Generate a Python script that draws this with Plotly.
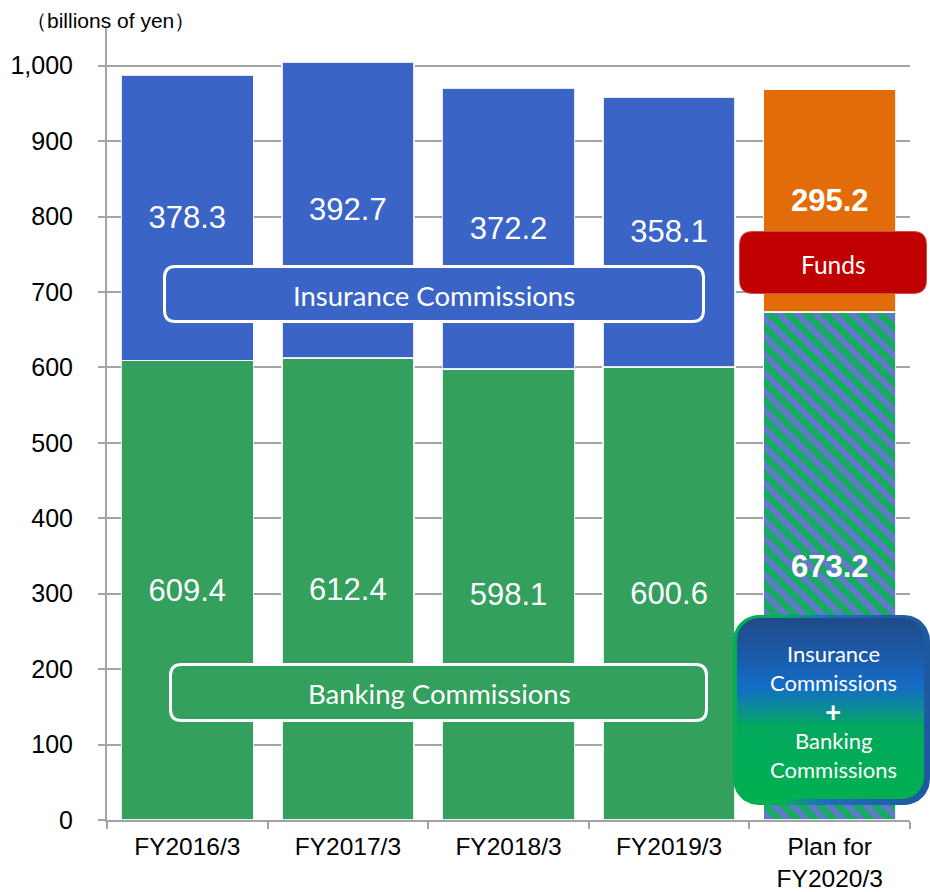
import numpy as np
import plotly.graph_objects as go

# ---- data (billions of yen) ----
categories = ["FY2016/3", "FY2017/3", "FY2018/3", "FY2019/3", "Plan for<br>FY2020/3"]
banking = [609.4, 612.4, 598.1, 600.6]
insurance = [378.3, 392.7, 372.2, 358.1]
plan_combined = [673.2]
plan_funds = [295.2]
y_ticks = [0, 100, 200, 300, 400, 500, 600, 700, 800, 900, 1000]

# ---- styling ----
BLUE = "#3A64C6"
GREEN = "#34A05E"
ORANGE = "#E36C0A"
RED = "#C00000"
GRID = "#A3A3A3"
NUM_FONT = "Liberation Sans, Arial, sans-serif"
BOX_FONT = "Lato, Open Sans, sans-serif"

W, H = 930, 892
ML, MR, MT, MB = 107, 0, 28, 72
PLOT_RIGHT = 910  # right end of the gridlines
x_dom_end = (PLOT_RIGHT - ML) / (W - ML - MR)


def rrect_path(x0, y0, x1, y1, r):
    """Rounded rectangle as an SVG path (pixel units, y downwards)."""
    return (f"M{x0 + r},{y0} L{x1 - r},{y0} Q{x1},{y0} {x1},{y0 + r} "
            f"L{x1},{y1 - r} Q{x1},{y1} {x1 - r},{y1} L{x0 + r},{y1} "
            f"Q{x0},{y1} {x0},{y1 - r} L{x0},{y0 + r} Q{x0},{y0} {x0 + r},{y0} Z")


def rrect_points(x0, y0, x1, y1, r, n=14):
    """Outline points of a rounded rectangle for a filled scatter trace."""
    xs, ys = [], []
    corners = [(x1 - r, y0 + r, -90, 0), (x1 - r, y1 - r, 0, 90),
               (x0 + r, y1 - r, 90, 180), (x0 + r, y0 + r, 180, 270)]
    for cx, cy, a0, a1 in corners:
        t = np.radians(np.linspace(a0, a1, n))
        xs.extend(cx + r * np.cos(t))
        ys.extend(cy + r * np.sin(t))
    xs.append(xs[0])
    ys.append(ys[0])
    return xs, ys


fig = go.Figure()

bar_line = dict(color="rgba(255,255,255,0.85)", width=1.5)
label_font = dict(size=31, color="white", family=NUM_FONT)

fig.add_trace(go.Bar(
    x=categories[:4], y=banking, name="Banking Commissions",
    marker=dict(color=GREEN, line=bar_line),
    text=[f"{v:.1f}" for v in banking], textposition="inside",
    insidetextanchor="middle", textangle=0, constraintext="none",
    textfont=label_font, hoverinfo="x+y"))

fig.add_trace(go.Bar(
    x=categories[:4], y=insurance, name="Insurance Commissions",
    marker=dict(color=BLUE, line=bar_line),
    text=[f"{v:.1f}" for v in insurance], textposition="inside",
    insidetextanchor="middle", textangle=0, constraintext="none",
    textfont=label_font, hoverinfo="x+y"))

fig.add_trace(go.Bar(
    x=categories[4:], y=plan_combined, name="Insurance + Banking Commissions",
    marker=dict(color="#1AA963", line=bar_line,
                pattern=dict(shape="\\", fillmode="replace", bgcolor="#17AA62",
                             fgcolor="#6776D2", size=13, solidity=0.42)),
    text=[f"<b>{v:.1f}</b>" for v in plan_combined], textposition="inside",
    insidetextanchor="middle", textangle=0, constraintext="none",
    textfont=label_font, hoverinfo="x+y"))

fig.add_trace(go.Bar(
    x=categories[4:], y=plan_funds, name="Funds",
    marker=dict(color=ORANGE, line=bar_line),
    text=[f"<b>{v:.1f}</b>" for v in plan_funds], textposition="inside",
    insidetextanchor="middle", textangle=0, constraintext="none",
    textfont=label_font, hoverinfo="x+y"))

# ---- gradient call-out box (drawn on a pixel-unit overlay subplot) ----
ox, oy = rrect_points(733, 615, 930, 805, 26)
fig.add_trace(go.Scatter(
    x=ox, y=oy, xaxis="x2", yaxis="y2", mode="lines", fill="toself",
    line=dict(width=0, color="rgba(0,0,0,0)"),
    fillgradient=dict(type="horizontal", start=733, stop=930,
                      colorscale=[[0, "#00B050"], [0.25, "#00B050"],
                                  [0.45, "#1E6FC0"], [1, "#1E58A0"]]),
    hoverinfo="skip", showlegend=False))

ix, iy = rrect_points(737, 618, 924, 799, 22)
fig.add_trace(go.Scatter(
    x=ix, y=iy, xaxis="x2", yaxis="y2", mode="lines", fill="toself",
    line=dict(width=0, color="rgba(0,0,0,0)"),
    fillgradient=dict(type="vertical", start=618, stop=799,
                      colorscale=[[0, "#1F4A8A"], [0.15, "#1D55A0"],
                                  [0.38, "#146CC6"], [0.5, "#0B8C96"],
                                  [0.6, "#02A85C"], [1, "#00B050"]]),
    hoverinfo="skip", showlegend=False))

shapes = [
    dict(type="path", xref="x2", yref="y2", layer="above",
         path=rrect_path(164.5, 266.5, 703.5, 321.5, 11),
         fillcolor=BLUE, line=dict(color="white", width=3)),
    dict(type="path", xref="x2", yref="y2", layer="above",
         path=rrect_path(170.5, 664.5, 706.5, 720.5, 11),
         fillcolor=GREEN, line=dict(color="white", width=3)),
    dict(type="path", xref="x2", yref="y2", layer="above",
         path=rrect_path(739.5, 231.5, 926.5, 293.5, 13),
         fillcolor=RED, line=dict(color="#D04848", width=1)),
]

box_txt = dict(color="white", family=BOX_FONT)
annotations = [
    dict(text="（billions of yen）", xref="paper", yref="paper",
         x=(110 - ML) / (W - ML - MR), y=(820 - 21) / (H - MT - MB),
         showarrow=False, font=dict(size=21, color="black", family=NUM_FONT),
         xanchor="center", yanchor="middle"),
    dict(text="Insurance Commissions", xref="x2", yref="y2", x=434, y=295,
         showarrow=False, font=dict(size=27.5, **box_txt)),
    dict(text="Banking Commissions", xref="x2", yref="y2", x=439, y=693,
         showarrow=False, font=dict(size=27.5, **box_txt)),
    dict(text="Funds", xref="x2", yref="y2", x=833, y=264,
         showarrow=False, font=dict(size=24.5, **box_txt)),
]
for txt, yy, sz in [("Insurance", 653, 22), ("Commissions", 682, 22),
                    ("<b>+</b>", 711, 28), ("Banking", 740, 22),
                    ("Commissions", 769, 22)]:
    annotations.append(dict(text=txt, xref="x2", yref="y2", x=833, y=yy,
                            showarrow=False, font=dict(size=sz, **box_txt)))

fig.update_layout(
    width=W, height=H,
    margin=dict(l=ML, r=MR, t=MT, b=MB, pad=0, autoexpand=False),
    paper_bgcolor="white", plot_bgcolor="rgba(0,0,0,0)",
    barmode="stack", bargap=0.178, showlegend=False,
    shapes=shapes, annotations=annotations,
    xaxis=dict(domain=[0, x_dom_end], type="category", categoryorder="array",
               categoryarray=categories, showline=True, linecolor=GRID,
               linewidth=2, ticks="outside", tickson="boundaries", ticklen=7,
               tickwidth=2, tickcolor=GRID, showgrid=False, automargin=False,
               tickfont=dict(size=24.5, color="black", family=NUM_FONT),
               ticklabelstandoff=4),
    yaxis=dict(range=[0, 1050], tickvals=y_ticks, tickformat=",d",
               showline=True, linecolor=GRID, linewidth=2, ticks="outside",
               ticklen=7, tickwidth=2, tickcolor=GRID, showgrid=True,
               gridcolor=GRID, gridwidth=2, zeroline=False, automargin=False,
               tickfont=dict(size=25, color="black", family=NUM_FONT),
               ticklabelstandoff=20),
    xaxis2=dict(domain=[0, 1], range=[ML, W - MR], anchor="y2",
                visible=False, fixedrange=True),
    yaxis2=dict(domain=[0, 1], range=[H - MB, MT], anchor="x2",
                visible=False, fixedrange=True),
)

fig.write_html("out.html")
